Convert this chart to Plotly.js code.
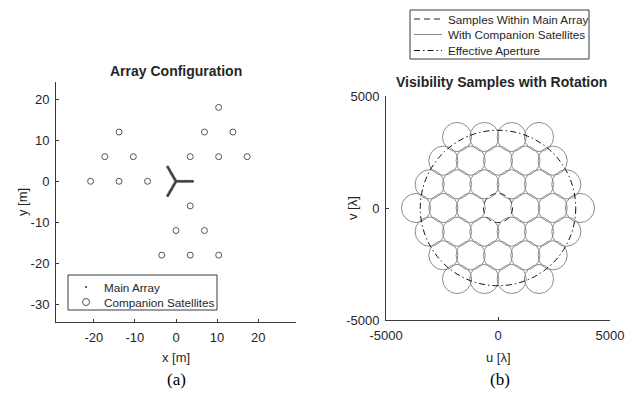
<!DOCTYPE html>
<html>
<head>
<meta charset="utf-8">
<script src="https://cdn.plot.ly/plotly-3.0.1.min.js"></script>
<style>html,body{margin:0;padding:0;background:#fff;}#chart{width:634px;height:401px;}</style>
</head>
<body>
<div id="chart"></div>
<script>
// ---- (a) Array configuration, metres ----
var mainX = [0, 0.5, 1.0, 1.5, 2.0, 2.5, 3.0, 3.5, 4.0,
             -0.25, -0.5, -0.75, -1.0, -1.25, -1.5, -1.75, -2.0,
             -0.25, -0.5, -0.75, -1.0, -1.25, -1.5, -1.75, -2.0];
var mainY = [0, 0, 0, 0, 0, 0, 0, 0, 0,
             0.433, 0.866, 1.299, 1.732, 2.165, 2.598, 3.031, 3.464,
             -0.433, -0.866, -1.299, -1.732, -2.165, -2.598, -3.031, -3.464];
var satX = [-20.78, -13.86, -6.93, -17.32, -10.39, -13.86,
            3.46, 10.39, 17.32, 6.93, 13.86, 10.39,
            3.46, 0.0, 6.93, -3.46, 3.46, 10.39];
var satY = [0, 0, 0, 6, 6, 12,
            6, 6, 6, 12, 12, 18,
            -6, -12, -12, -18, -18, -18];
var xTicksA = [-20, -10, 0, 10, 20];
var xTickTextA = ['-20', '-10', '0', '10', '20'];
var yTicksA = [-30, -20, -10, 0, 10, 20];
var yTickTextA = ['-30', '-20', '-10', '0', '10', '20'];
var legendA = ['Main Array', 'Companion Satellites'];

// ---- (b) Visibility samples, wavelengths ----
var uvU = [-3660, -2440, -1220, 1220, 2440, 3660,
           -3050, -1830, -610, 610, 1830, 3050,
           -3050, -1830, -610, 610, 1830, 3050,
           -2440, -1220, 0, 1220, 2440,
           -2440, -1220, 0, 1220, 2440,
           -1830, -610, 610, 1830,
           -1830, -610, 610, 1830];
var uvV = [0, 0, 0, 0, 0, 0,
           1057, 1057, 1057, 1057, 1057, 1057,
           -1057, -1057, -1057, -1057, -1057, -1057,
           2113, 2113, 2113, 2113, 2113,
           -2113, -2113, -2113, -2113, -2113,
           3170, 3170, 3170, 3170,
           -3170, -3170, -3170, -3170];
var sampleRadius = 650;
var mainSampleRadius = 650;
var apertureRadius = 3470;
var ticksB = [-5000, 0, 5000];
var tickTextB = ['-5000', '0', '5000'];
var legendB = ['Samples Within Main Array', 'With Companion Satellites', 'Effective Aperture'];

var axisCol = '#3a3a3a';
var txtCol = '#262626';
var grayCol = '#8c8c8c';
var mainCol = '#262626';
var apCol = '#111111';
var dashMain = '6px,4px';
var dashAp = '6px,3px,1.5px,3px';
var F = 'Liberation Sans, Arial, Helvetica, sans-serif';

var traces = [
  {x: mainX, y: mainY, xaxis: 'x', yaxis: 'y', type: 'scatter', mode: 'markers',
   name: legendA[0], showlegend: false,
   marker: {size: 3, color: '#444444'}},
  {x: satX, y: satY, xaxis: 'x', yaxis: 'y', type: 'scatter', mode: 'markers',
   name: legendA[1], showlegend: false,
   marker: {symbol: 'circle-open', size: 6, color: '#555555', line: {width: 1, color: '#555555'}}}
];

var W = 634, H = 401;
function px(x) { return x / W; }
function py(y) { return 1 - y / H; }

var shapes = [];
for (var i = 0; i < uvU.length; i++) {
  shapes.push({type: 'circle', xref: 'x2', yref: 'y2',
    x0: uvU[i] - sampleRadius, x1: uvU[i] + sampleRadius,
    y0: uvV[i] - sampleRadius, y1: uvV[i] + sampleRadius,
    line: {color: grayCol, width: 1}});
}
shapes.push({type: 'circle', xref: 'x2', yref: 'y2',
  x0: -mainSampleRadius, x1: mainSampleRadius, y0: -mainSampleRadius, y1: mainSampleRadius,
  line: {color: mainCol, width: 1, dash: dashMain}});
shapes.push({type: 'circle', xref: 'x2', yref: 'y2',
  x0: -apertureRadius, x1: apertureRadius, y0: -apertureRadius, y1: apertureRadius,
  line: {color: apCol, width: 1, dash: dashAp}});

// legend boxes (drawn as paper shapes for exact spacing)
shapes.push({type: 'rect', xref: 'paper', yref: 'paper', x0: px(68), x1: px(217), y0: py(310), y1: py(275),
  line: {color: axisCol, width: 1}, fillcolor: '#ffffff'});
shapes.push({type: 'circle', xref: 'paper', yref: 'paper', xsizemode: 'pixel', ysizemode: 'pixel',
  xanchor: px(86), yanchor: py(287), x0: -1.1, x1: 1.1, y0: -1.1, y1: 1.1,
  fillcolor: '#444444', line: {width: 0}});
shapes.push({type: 'circle', xref: 'paper', yref: 'paper', xsizemode: 'pixel', ysizemode: 'pixel',
  xanchor: px(86), yanchor: py(302), x0: -3.5, x1: 3.5, y0: -3.5, y1: 3.5,
  line: {color: '#555555', width: 1}});
shapes.push({type: 'rect', xref: 'paper', yref: 'paper', x0: px(410), x1: px(589), y0: py(59), y1: py(10),
  line: {color: axisCol, width: 1}, fillcolor: '#ffffff'});
var legRowsB = [19, 34.5, 50.5];
var legStyleB = [{color: mainCol, width: 1, dash: dashMain}, {color: grayCol, width: 1},
                 {color: apCol, width: 1, dash: dashAp}];
for (var j = 0; j < legendB.length; j++) {
  shapes.push({type: 'line', xref: 'paper', yref: 'paper', x0: px(414), x1: px(442),
    y0: py(legRowsB[j]), y1: py(legRowsB[j]), line: legStyleB[j]});
}

function ax(extra) {
  var a = {showline: true, linecolor: axisCol, linewidth: 1, mirror: false,
    ticks: 'inside', ticklen: 3, tickcolor: axisCol, tickwidth: 1,
    showgrid: false, zeroline: false, fixedrange: true, tickmode: 'array',
    tickfont: {family: F, size: 13, color: txtCol}};
  for (var k in extra) a[k] = extra[k];
  return a;
}

var annot = function(text, x, y, size, extra) {
  var a = {text: text, xref: 'paper', yref: 'paper', x: px(x), y: py(y),
    xanchor: 'center', yanchor: 'middle', showarrow: false,
    font: {family: F, size: size, color: txtCol}};
  for (var k in extra) a[k] = extra[k];
  return a;
};

var annotations = [
  annot('<b>Array Configuration</b>', 176, 71, 14),
  annot('<b>Visibility Samples with Rotation</b>', 501, 82, 14),
  annot('x [m]', 176, 357, 13),
  annot('y [m]', 22, 202, 13, {textangle: -90}),
  annot('u [λ]', 498, 357, 13),
  annot('v [λ]', 352, 208, 13, {textangle: -90}),
  annot('(a)', 176, 379, 17, {font: {family: 'Liberation Serif, Times New Roman, serif', size: 17, color: '#000'}}),
  annot('(b)', 500, 379, 17, {font: {family: 'Liberation Serif, Times New Roman, serif', size: 17, color: '#000'}}),
  annot(legendA[0], 102, 287, 11.7, {xanchor: 'left'}),
  annot(legendA[1], 102, 302, 11.7, {xanchor: 'left'})
];
for (var m = 0; m < legendB.length; m++) {
  annotations.push(annot(legendB[m], 446, legRowsB[m], 11.7, {xanchor: 'left'}));
}

var layout = {
  width: W, height: H,
  margin: {l: 0, r: 0, t: 0, b: 0},
  paper_bgcolor: '#ffffff', plot_bgcolor: 'rgba(0,0,0,0)',
  font: {family: F, color: txtCol},
  showlegend: false,
  xaxis: ax({domain: [px(56), px(296)], range: [-29.2, 29.2], tickvals: xTicksA, ticktext: xTickTextA, anchor: 'y', ticklabelstandoff: 3}),
  yaxis: ax({domain: [py(322), py(82)], range: [-34.3, 24.2], tickvals: yTicksA, ticktext: yTickTextA, anchor: 'x', ticklabelstandoff: 3}),
  xaxis2: ax({domain: [px(386), px(610)], range: [-5000, 5000], tickvals: ticksB, ticktext: tickTextB, anchor: 'y2', ticklabelstandoff: 3}),
  yaxis2: ax({domain: [py(320), py(96)], range: [-5000, 5000], tickvals: ticksB, ticktext: tickTextB, anchor: 'x2', ticklabelstandoff: 3}),
  shapes: shapes,
  annotations: annotations
};

Plotly.newPlot('chart', traces, layout, {staticPlot: true, displayModeBar: false});
</script>
</body>
</html>
